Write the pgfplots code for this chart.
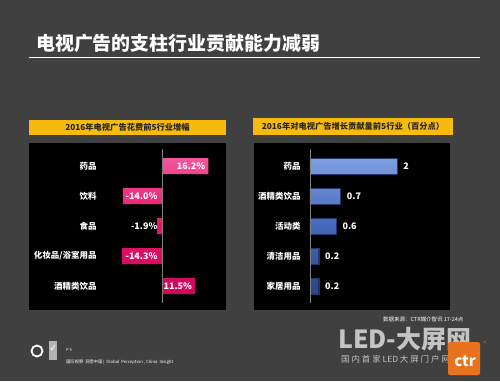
\documentclass[border=0pt]{standalone}
\usepackage{pgfplots}
\pgfplotsset{compat=1.18}
\usepackage{fontspec}
\setmainfont{Noto Sans CJK SC}
\definecolor{bg}{HTML}{404040}
\definecolor{hdr}{HTML}{F7BB0E}
\definecolor{pinkm}{HTML}{E8136B}
\definecolor{pinkt}{HTML}{F2559A}
\definecolor{pinkb}{HTML}{C9085A}
\definecolor{bluem}{HTML}{4468BA}
\definecolor{bluet}{HTML}{7F9FE2}
\definecolor{blueb}{HTML}{2B4585}
\definecolor{wm}{HTML}{C4C4C4}
\definecolor{ctrorange}{HTML}{E8731C}
\begin{document}
\begin{tikzpicture}[x=1bp,y=1bp]
\fill[bg] (0,0) rectangle (500,381);
% title
\node[anchor=west, text=white, inner sep=0pt, font=\bfseries\fontsize{19}{19}\selectfont] at (36,338) {电视广告的支柱行业贡献能力减弱};
\draw[white, line width=0.7bp] (29,324) -- (480,324);
% headers
\fill[hdr] (29,246) rectangle (226,261);
\node[text=black!85, inner sep=0pt, font=\bfseries\fontsize{8.3}{9}\selectfont] at (127.5,253.5) {2016年电视广告花费前5行业增幅};
\fill[hdr] (253,246) rectangle (453,263);
\node[text=black!85, inner sep=0pt, font=\bfseries\fontsize{8.3}{9}\selectfont] at (353,254.5) {2016年对电视广告增长贡献量前5行业（百分点）};

% left chart
\begin{axis}[
  at={(29bp,71bp)}, anchor=south west,
  width=197bp, height=167bp, scale only axis,
  xbar, bar width=16bp,
  xmin=-47.2, xmax=22.4, ymin=-0.767, ymax=4.8, y dir=reverse,
  axis background/.style={fill=black},
  axis line style={draw=none},
  major tick length=0pt,
  xtick=\empty,
  ytick={0,1,2,3,4},
  yticklabels={药品,饮料,食品,化妆品/浴室用品,酒精类饮品},
  yticklabel style={text=white, font=\bfseries\fontsize{8.5}{9}\selectfont, anchor=east, xshift=71bp},
  clip=false,
]
\addplot[draw=none, top color=pinkt, bottom color=pinkb, middle color=pinkm] coordinates {(16.2,0) (-14.0,1) (-1.9,2) (-14.3,3) (11.5,4)};
\draw[gray, line width=0.8bp] (axis cs:0,-0.57) -- (axis cs:0,4.57);
\node[anchor=east, text=white, inner sep=0pt, font=\bfseries\fontsize{9}{9}\selectfont, xshift=-3bp] at (axis cs:16.2,0) {16.2\%};
\node[anchor=east, text=white, inner sep=0pt, font=\bfseries\fontsize{9}{9}\selectfont, xshift=-5bp] at (axis cs:0,1) {-14.0\%};
\node[anchor=east, text=white, inner sep=0pt, font=\bfseries\fontsize{9}{9}\selectfont, xshift=-5bp] at (axis cs:0,2) {-1.9\%};
\node[anchor=east, text=white, inner sep=0pt, font=\bfseries\fontsize{9}{9}\selectfont, xshift=-5bp] at (axis cs:0,3) {-14.3\%};
\node[anchor=east, text=white, inner sep=0pt, font=\bfseries\fontsize{9}{9}\selectfont, xshift=-3bp] at (axis cs:11.5,4) {11.5\%};
\end{axis}

% right chart
\begin{axis}[
  at={(254bp,71bp)}, anchor=south west,
  width=196bp, height=167bp, scale only axis,
  xbar, bar width=16bp,
  xmin=-1.287, xmax=3.22, ymin=-0.767, ymax=4.8, y dir=reverse,
  axis background/.style={fill=black},
  axis line style={draw=none},
  major tick length=0pt,
  xtick=\empty,
  ytick={0,1,2,3,4},
  yticklabels={药品,酒精类饮品,活动类,清洁用品,家居用品},
  yticklabel style={text=white, font=\bfseries\fontsize{8.5}{9}\selectfont, anchor=east, xshift=50bp},
  nodes near coords,
  /pgf/number format/assume math mode=true,
  every node near coord/.append style={text=white, font=\bfseries\fontsize{9}{9}\selectfont, xshift=3bp},
  clip=false,
]
\addplot[draw=blueb!80!black, line width=0.3bp, top color=bluet, bottom color=blueb, middle color=bluem] coordinates {(2,0) (0.7,1) (0.6,2) (0.2,3) (0.2,4)};
\draw[gray, line width=0.8bp] (axis cs:0,-0.57) -- (axis cs:0,4.57);
\end{axis}

% footer right
\node[anchor=west, text=white!90, inner sep=0pt, font=\fontsize{5.5}{6}\selectfont] at (383,62) {数据来源：CTR媒介智讯 17-24点};
\node[anchor=west, text=wm, inner sep=0pt, font=\bfseries\fontsize{25}{25}\selectfont] at (338,42) {LED-大屏网};
\node[anchor=west, text=wm, inner sep=0pt, font=\fontsize{8.5}{9}\selectfont] at (341,22) {国 内 首 家 LED 大 屏 门 户 网};
\fill[ctrorange, rounded corners=2bp] (448,6) rectangle (480,39);
\node[text=white, inner sep=0pt, font=\bfseries\fontsize{15}{15}\selectfont] at (465,20) {ctr};
\node[text=ctrorange, inner sep=0pt, font=\fontsize{5}{5}\selectfont] at (485,37) {®};
% footer left
\draw[white!75, line width=1.8bp] (37,30) circle (5.5);
\fill[white!60!bg] (49,21) rectangle (57,40);
\node[text=white, inner sep=0pt, font=\bfseries\fontsize{7}{7}\selectfont] at (53,33) {✓};
\node[anchor=west, text=white!85, inner sep=0pt, font=\fontsize{4}{4}\selectfont] at (66,31) {P 9};
\node[anchor=west, text=white!85, inner sep=0pt, font=\fontsize{4.3}{5}\selectfont] at (66,19) {国际视野\ \ 洞悉中国 \textbar\ \ Global\ \ Perception , China\ \ Insight};
\end{tikzpicture}
\end{document}
